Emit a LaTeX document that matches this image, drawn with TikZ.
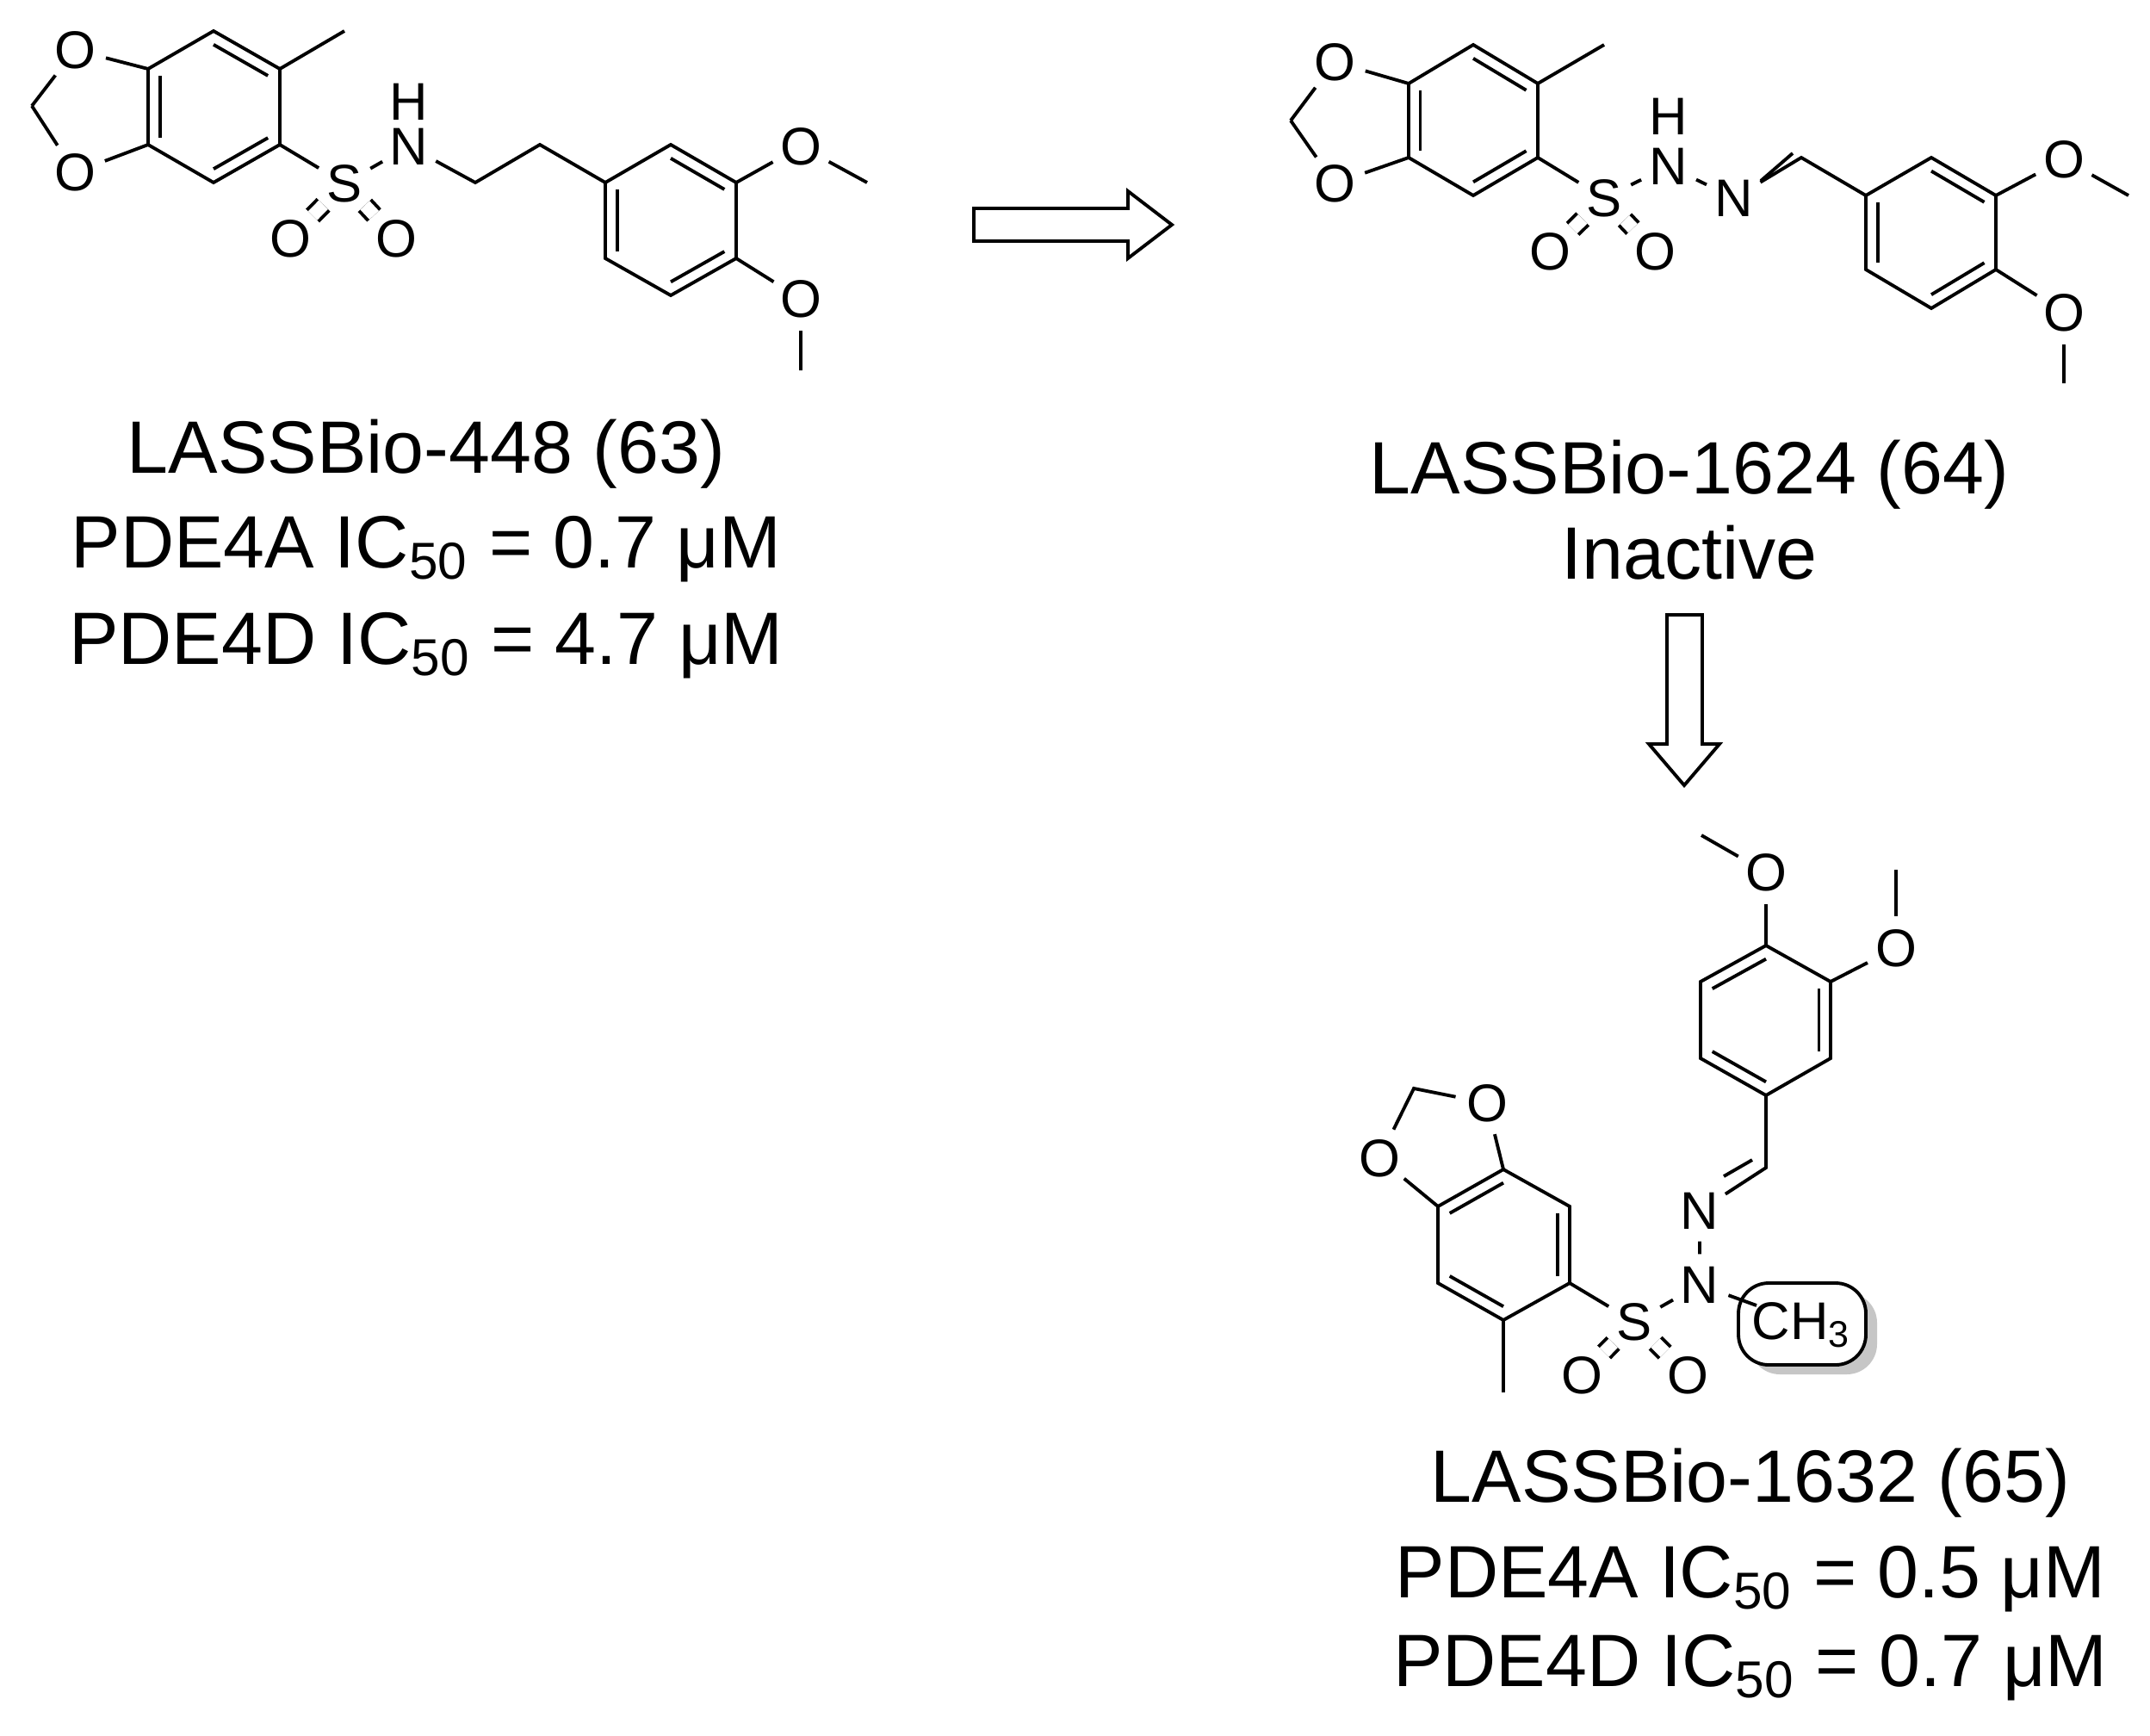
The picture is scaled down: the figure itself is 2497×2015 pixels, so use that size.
\documentclass[tikz,border=0pt]{standalone}
\usepackage{fontspec}
\setmainfont{Liberation Sans}
\usetikzlibrary{calc}
\begin{document}
\begin{tikzpicture}[x=0.01cm,y=-0.01cm,line width=1.1pt,
  atom/.style={font=\fontsize{17.5}{17.5}\selectfont,inner sep=0.6pt,circle},
  txt/.style={font=\fontsize{24.5}{24.5}\selectfont,inner sep=0pt,align=center},
  dbl/.style={double,double distance=4.2pt},
  blockarrow/.style={draw,fill=white,line width=1.1pt,line join=miter}]
\useasboundingbox (0,0) rectangle (2497,2015);
\newcommand{\innerb}[3]{\draw ($(#1)!0.18!(#3)$) -- ($(#2)!0.18!(#3)$);}
% ================= Molecule 1 =================
\node[atom] (aOt) at (87,58) {O};
\node[atom] (aOb) at (87,200) {O};
\coordinate (aCH2) at (37,123);
\coordinate (a1) at (172,80);
\coordinate (a2) at (248,36);
\coordinate (a3) at (325,80);
\coordinate (a4) at (325,168);
\coordinate (a5) at (248,212);
\coordinate (a6) at (172,168);
\coordinate (acen) at (248,124);
\coordinate (aMe) at (400,36);
\node[atom] (aS) at (400,213) {S};
\node[atom] (aOL) at (337,277) {O};
\node[atom] (aOR) at (460,277) {O};
\node[atom] (aN) at (475,170) {N};
\node[atom] (aH) at (475,118) {H};
\coordinate (aC1) at (552,212);
\coordinate (aC2) at (627,168);
\coordinate (b1) at (703,212);
\coordinate (b2) at (779,168);
\coordinate (b3) at (855,212);
\coordinate (b4) at (855,300);
\coordinate (b5) at (779,343);
\coordinate (b6) at (703,300);
\coordinate (bcen) at (779,256);
\node[atom] (aO3) at (930,170) {O};
\coordinate (aMe3) at (1007,212);
\node[atom] (aO4) at (930,347) {O};
\coordinate (aMe4) at (930,430);
\draw (aCH2)--(aOt)--(a1)--(a2)--(a3)--(a4)--(a5)--(a6)--(a1);
\draw (aCH2)--(aOb)--(a6);
\innerb{a1}{a6}{acen}\innerb{a2}{a3}{acen}\innerb{a4}{a5}{acen}
\draw (a3)--(aMe);
\draw (a4)--(aS)--(aN);
\draw[dbl] (aS)--(aOL); \draw[dbl] (aS)--(aOR);
\draw (aN)--(aC1)--(aC2)--(b1)--(b2)--(b3)--(b4)--(b5)--(b6)--(b1);
\innerb{b1}{b6}{bcen}\innerb{b2}{b3}{bcen}\innerb{b4}{b5}{bcen}
\draw (b3)--(aO3)--(aMe3);
\draw (b4)--(aO4)--(aMe4);
\node[txt] (t1) at (495,527) {LASSBio-448 (63)};
\node[txt] (t2) at (495,638) {PDE4A IC\textsubscript{50} = 0.7 μM};
\node[txt] (t3) at (495,750) {PDE4D IC\textsubscript{50} = 4.7 μM};
% ================= Molecule 2 =================
\node[atom] (cOt) at (1550,72) {O};
\node[atom] (cOb) at (1550,213) {O};
\coordinate (cCH2) at (1499,140);
\coordinate (c1) at (1636,97);
\coordinate (c2) at (1711,52);
\coordinate (c3) at (1786,97);
\coordinate (c4) at (1786,183);
\coordinate (c5) at (1711,227);
\coordinate (c6) at (1636,183);
\coordinate (ccen) at (1711,140);
\coordinate (cMe) at (1863,52);
\node[atom] (cS) at (1863,230) {S};
\node[atom] (cOL) at (1800,292) {O};
\node[atom] (cOR) at (1922,292) {O};
\node[atom] (cN1) at (1938,193) {N};
\node[atom] (cH) at (1938,135) {H};
\node[atom] (cN2) at (2014,230) {N};
\coordinate (cCH) at (2092,183);
\coordinate (d1) at (2167,227);
\coordinate (d2) at (2243,183);
\coordinate (d3) at (2318,227);
\coordinate (d4) at (2318,313);
\coordinate (d5) at (2243,358);
\coordinate (d6) at (2167,313);
\coordinate (dcen) at (2243,270);
\node[atom] (cO3) at (2397,185) {O};
\coordinate (cMe3) at (2472,227);
\node[atom] (cO4) at (2397,363) {O};
\coordinate (cMe4) at (2397,445);
\draw (cCH2)--(cOt)--(c1)--(c2)--(c3)--(c4)--(c5)--(c6)--(c1);
\draw (cCH2)--(cOb)--(c6);
\innerb{c1}{c6}{ccen}\innerb{c2}{c3}{ccen}\innerb{c4}{c5}{ccen}
\draw (c3)--(cMe);
\draw (c4)--(cS)--(cN1)--(cN2)--(cCH)--(d1)--(d2)--(d3)--(d4)--(d5)--(d6)--(d1);
\draw (2045,210)--(2082,178);
\draw[dbl] (cS)--(cOL); \draw[dbl] (cS)--(cOR);
\innerb{d1}{d6}{dcen}\innerb{d2}{d3}{dcen}\innerb{d4}{d5}{dcen}
\draw (d3)--(cO3)--(cMe3);
\draw (d4)--(cO4)--(cMe4);
\node[txt] (t4) at (1962,551) {LASSBio-1624 (64)};
\node[txt] (t5) at (1962,642) {Inactive};
% ================= Molecule 3 =================
\coordinate (eMeT) at (1976,970);
\node[atom] (eOT) at (2051,1013) {O};
\coordinate (f1) at (2051,1098);
\coordinate (f2) at (2126,1140);
\coordinate (f3) at (2126,1229);
\coordinate (f4) at (2051,1272);
\coordinate (f5) at (1975,1229);
\coordinate (f6) at (1975,1140);
\coordinate (fcen) at (2051,1185);
\node[atom] (eO3) at (2202,1101) {O};
\coordinate (eMe3) at (2202,1010);
\coordinate (eCH) at (2051,1356);
\node[atom] (eN1) at (1974,1406) {N};
\node[atom] (eN2) at (1974,1492) {N};
\node[atom] (eS) at (1898,1535) {S};
\node[atom] (eOL) at (1837,1597) {O};
\node[atom] (eOR) at (1960,1597) {O};
\coordinate (g1) at (1823,1490);
\coordinate (g2) at (1823,1401);
\coordinate (g3) at (1746,1358);
\coordinate (g4) at (1670,1401);
\coordinate (g5) at (1670,1490);
\coordinate (g6) at (1746,1533);
\coordinate (gcen) at (1746,1445);
\coordinate (eMe) at (1746,1617);
\node[atom] (eOa) at (1727,1281) {O};
\node[atom] (eOb) at (1602,1345) {O};
\coordinate (eCH2) at (1642,1264);
\draw (eMeT)--(eOT)--(f1)--(f2)--(f3)--(f4)--(f5)--(f6)--(f1);
\innerb{f1}{f6}{fcen}\innerb{f2}{f3}{fcen}\innerb{f4}{f5}{fcen}
\draw (f2)--(eO3)--(eMe3);
\draw (f4)--(eCH)--(eN1)--(eN2)--(eS)--(g1)--(g2)--(g3)--(g4)--(g5)--(g6)--(g1);
\draw (2002,1366)--(2035,1347);
\draw[dbl] (eS)--(eOL); \draw[dbl] (eS)--(eOR);
\innerb{g3}{g4}{gcen}\innerb{g1}{g2}{gcen}\innerb{g5}{g6}{gcen}
\draw (g6)--(eMe);
\draw (g3)--(eOa)--(eCH2)--(eOb)--(g4);
% CH3 box
\fill[gray!45,rounded corners=10] (2032,1501) rectangle (2180,1596);
\draw[fill=white,rounded corners=10,line width=1.1pt] (2019,1490) rectangle (2167,1585);
\coordinate (eBoxIn) at (2040,1516);
\draw (eN2)--(eBoxIn);
\node[atom] (eCH3) at (2092,1539) {CH\textsubscript{3}};
\node[txt] (t6) at (2033,1722) {LASSBio-1632 (65)};
\node[txt] (t7) at (2033,1834) {PDE4A IC\textsubscript{50} = 0.5 μM};
\node[txt] (t8) at (2033,1937) {PDE4D IC\textsubscript{50} = 0.7 μM};
% ================= Arrows =================
\draw[blockarrow] (1131,242)--(1310,242)--(1310,222)--(1361,261)--(1310,300)--(1310,280)--(1131,280)--cycle;
\draw[blockarrow] (1936,714)--(1977,714)--(1977,864)--(1997,864)--(1956,912)--(1915,864)--(1936,864)--cycle;
\end{tikzpicture}
\end{document}
